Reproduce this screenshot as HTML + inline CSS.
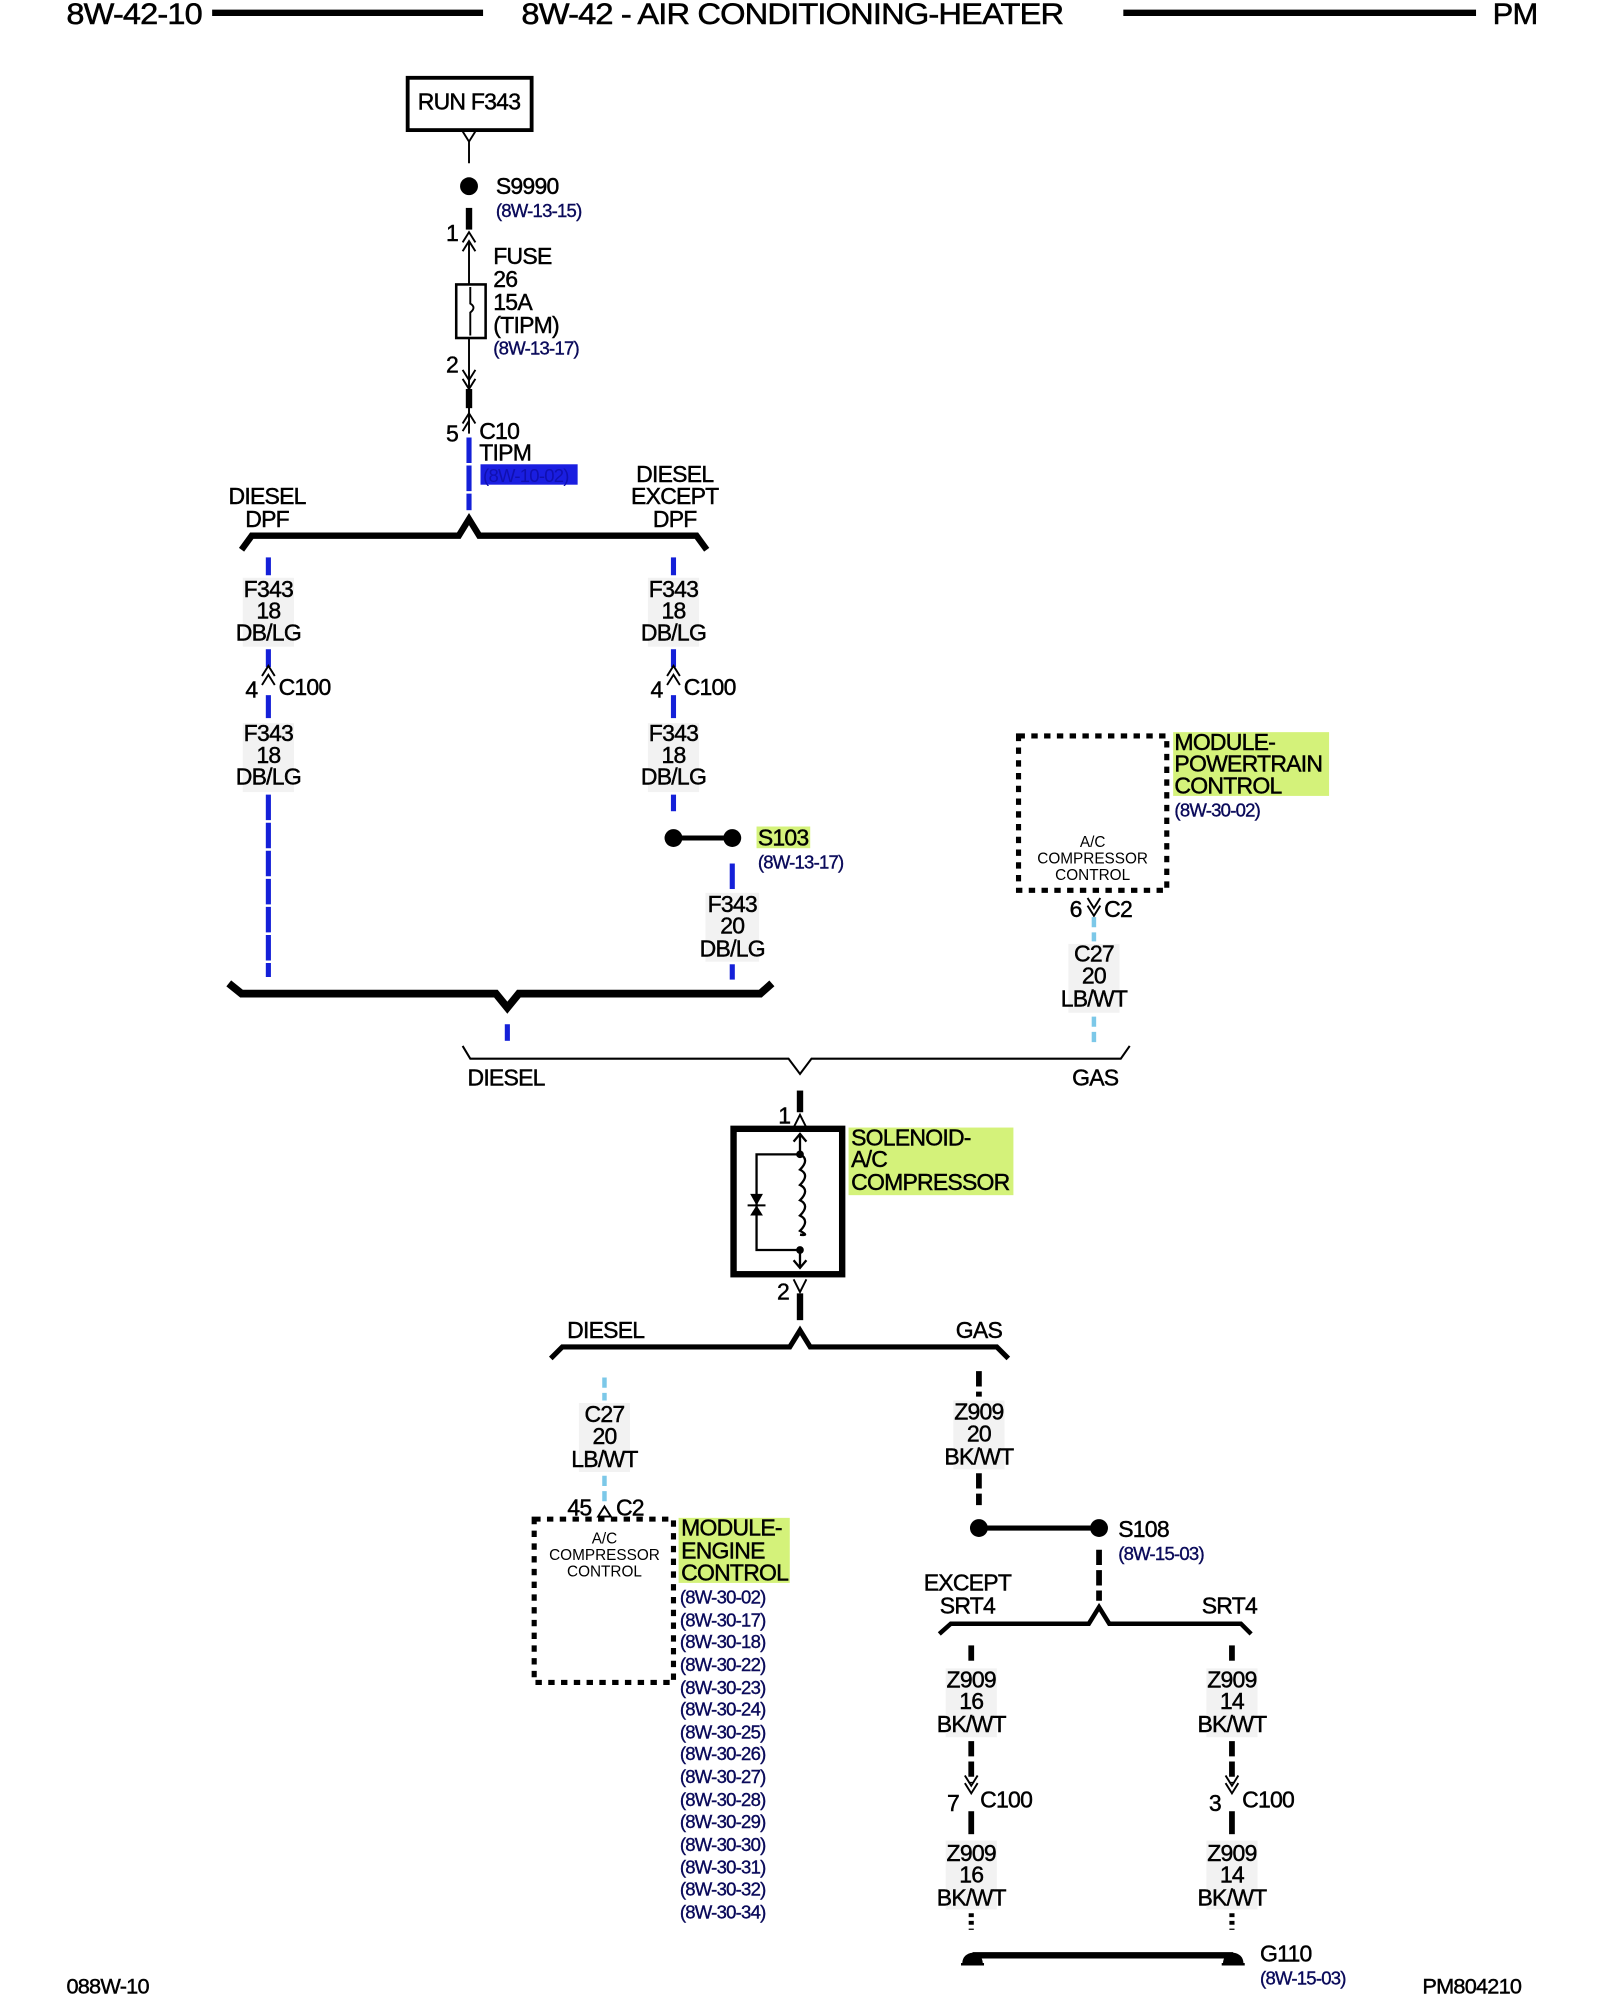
<!DOCTYPE html>
<html><head><meta charset="utf-8"><style>
html,body{margin:0;padding:0;background:#fff;}
svg{display:block;}
text{font-family:"Liberation Sans",Arial,sans-serif;fill:#000;letter-spacing:-0.6px;}
.t{font-size:18px;stroke:#000;stroke-width:0.35px;}
.r{font-size:14.5px;fill:#0a0a5a;stroke:#0a0a5a;stroke-width:0.3px;}
.s{font-size:12px;letter-spacing:0;}
.c{text-anchor:middle;}
.h{font-size:23px;stroke:#000;stroke-width:0.4px;}
.b{stroke:#1420d8;stroke-width:4;stroke-dasharray:20 2;}
.lb{stroke:#7cc8e8;stroke-width:3.5;stroke-dasharray:8 4;}
.k{stroke:#000;stroke-width:4.5;stroke-dasharray:12 4;}
.th{stroke:#000;fill:none;}
</style></head><body>
<svg width="1600" height="2000" viewBox="0 0 1252 1568" preserveAspectRatio="none" xmlns="http://www.w3.org/2000/svg">
<!-- header -->
<text x="52" y="19" class="h" textLength="106" lengthAdjust="spacingAndGlyphs">8W-42-10</text>
<line x1="166" y1="10" x2="378" y2="10" stroke="#000" stroke-width="5"/>
<text x="408" y="19" class="h" textLength="424" lengthAdjust="spacingAndGlyphs">8W-42 - AIR CONDITIONING-HEATER</text>
<line x1="879" y1="10" x2="1155" y2="10" stroke="#000" stroke-width="5"/>
<text x="1168" y="19" class="h" textLength="35" lengthAdjust="spacingAndGlyphs">PM</text>

<!-- RUN F343 -->
<rect x="319" y="61" width="97" height="41" fill="none" stroke="#000" stroke-width="3"/>
<text x="367" y="86" class="t c">RUN F343</text>
<path d="M362,103 L367,111 L372,103 M367,111 V128" class="th" stroke-width="1.5"/>
<circle cx="367" cy="146" r="7"/>
<text x="388" y="152" class="t">S9990</text>
<text x="388" y="170" class="r">(8W-13-15)</text>
<line x1="367" y1="163" x2="367" y2="180" stroke="#000" stroke-width="5"/>
<text x="349" y="189" class="t">1</text>
<path d="M362,190 L367,182 L372,190 M362,197 L367,189 L372,197 M367,189 V340" class="th" stroke-width="1.5"/>
<rect x="357" y="223" width="23" height="42" fill="#fff" stroke="#000" stroke-width="2"/>
<path d="M368,225 V238 q5,3 0,7 V263" class="th" stroke-width="1.5"/>
<text x="386" y="207" class="t">FUSE</text>
<text x="386" y="225" class="t">26</text>
<text x="386" y="243" class="t">15A</text>
<text x="386" y="261" class="t">(TIPM)</text>
<text x="386" y="278" class="r">(8W-13-17)</text>
<text x="349" y="292" class="t">2</text>
<path d="M362,290 L367,298 L372,290 M362,297 L367,305 L372,297" class="th" stroke-width="1.5"/>
<line x1="367" y1="305" x2="367" y2="320" stroke="#000" stroke-width="5"/>
<text x="349" y="346" class="t">5</text>
<path d="M362,332 L367,324 L372,332 M362,338 L367,330" class="th" stroke-width="1.5"/>
<text x="375" y="344" class="t">C10</text>
<text x="375" y="361" class="t">TIPM</text>
<rect x="376" y="364" width="76" height="16" fill="#1a1ee0"/>
<text x="378" y="378" class="r" style="fill:#1010b0;stroke:none">(8W-10-02)</text>
<line x1="367" y1="343" x2="367" y2="400" class="b"/>

<!-- first branch -->
<text x="209" y="395" class="t c">DIESEL</text>
<text x="209" y="413" class="t c">DPF</text>
<text x="528" y="378" class="t c">DIESEL</text>
<text x="528" y="395" class="t c">EXCEPT</text>
<text x="528" y="413" class="t c">DPF</text>
<path d="M189,431 L197,420 H359 L367,407 L375,420 H545 L553,431" class="th" stroke-width="5"/>

<!-- left column -->
<line x1="210" y1="437" x2="210" y2="451" class="b"/>
<rect x="190" y="453" width="40" height="54" fill="#f2f2f2"/>
<text x="210" y="468" class="t c">F343</text>
<text x="210" y="485" class="t c">18</text>
<text x="210" y="502" class="t c">DB/LG</text>
<line x1="210" y1="509" x2="210" y2="523" class="b"/>
<path d="M205,530 L210,522 L215,530 M205,537 L210,529 L215,537" class="th" stroke-width="1.5"/>
<text x="192" y="547" class="t">4</text>
<text x="218" y="545" class="t">C100</text>
<line x1="210" y1="545" x2="210" y2="563" class="b"/>
<rect x="190" y="567" width="40" height="54" fill="#f2f2f2"/>
<text x="210" y="581" class="t c">F343</text>
<text x="210" y="598" class="t c">18</text>
<text x="210" y="615" class="t c">DB/LG</text>
<line x1="210" y1="623" x2="210" y2="766" class="b"/>

<!-- right column -->
<line x1="527" y1="437" x2="527" y2="451" class="b"/>
<rect x="507" y="453" width="40" height="54" fill="#f2f2f2"/>
<text x="527" y="468" class="t c">F343</text>
<text x="527" y="485" class="t c">18</text>
<text x="527" y="502" class="t c">DB/LG</text>
<line x1="527" y1="509" x2="527" y2="523" class="b"/>
<path d="M522,530 L527,522 L532,530 M522,537 L527,529 L532,537" class="th" stroke-width="1.5"/>
<text x="509" y="547" class="t">4</text>
<text x="535" y="545" class="t">C100</text>
<line x1="527" y1="545" x2="527" y2="563" class="b"/>
<rect x="507" y="567" width="40" height="54" fill="#f2f2f2"/>
<text x="527" y="581" class="t c">F343</text>
<text x="527" y="598" class="t c">18</text>
<text x="527" y="615" class="t c">DB/LG</text>
<line x1="527" y1="623" x2="527" y2="636" class="b"/>
<line x1="527" y1="657" x2="573" y2="657" stroke="#000" stroke-width="4"/>
<circle cx="527" cy="657" r="7"/><circle cx="573" cy="657" r="7"/>
<rect x="592" y="648" width="42" height="17" fill="#d4f27a"/>
<text x="593" y="663" class="t">S103</text>
<text x="593" y="681" class="r">(8W-13-17)</text>
<line x1="573" y1="677" x2="573" y2="698" class="b"/>
<rect x="552" y="700" width="42" height="54" fill="#f2f2f2"/>
<text x="573" y="715" class="t c">F343</text>
<text x="573" y="732" class="t c">20</text>
<text x="573" y="750" class="t c">DB/LG</text>
<line x1="573" y1="756" x2="573" y2="768" class="b"/>

<!-- bottom bar -->
<path d="M179,771 L189,779 H388 L397,790 L406,779 H595 L604,771" class="th" stroke-width="6"/>
<line x1="397" y1="803" x2="397" y2="816" class="b"/>

<!-- PCM -->
<rect x="797" y="577" width="116" height="121" fill="none" stroke="#000" stroke-width="4" stroke-dasharray="5 5"/>
<text x="855" y="664" class="s c">A/C</text>
<text x="855" y="677" class="s c">COMPRESSOR</text>
<text x="855" y="690" class="s c">CONTROL</text>
<rect x="918" y="574" width="122" height="50" fill="#d4f27a"/>
<text x="919" y="588" class="t">MODULE-</text>
<text x="919" y="605" class="t">POWERTRAIN</text>
<text x="919" y="622" class="t">CONTROL</text>
<text x="919" y="640" class="r">(8W-30-02)</text>
<text x="837" y="719" class="t">6</text>
<path d="M851,704 L856,712 L861,704 M851,710 L856,718 L861,710" class="th" stroke-width="1.5"/>
<text x="864" y="719" class="t">C2</text>
<line x1="856" y1="719" x2="856" y2="738" class="lb"/>
<rect x="836" y="740" width="40" height="54" fill="#f2f2f2"/>
<text x="856" y="754" class="t c">C27</text>
<text x="856" y="771" class="t c">20</text>
<text x="856" y="789" class="t c">LB/WT</text>
<line x1="856" y1="797" x2="856" y2="818" class="lb"/>

<!-- brace -->
<path d="M362,820 L368,830 H617 L626,842 L635,830 H877 L884,820" class="th" stroke-width="1.6"/>
<text x="396" y="851" class="t c">DIESEL</text>
<text x="857" y="851" class="t c">GAS</text>

<!-- solenoid -->
<line x1="626" y1="855" x2="626" y2="872" stroke="#000" stroke-width="5"/>
<text x="609" y="881" class="t">1</text>
<path d="M621,884 L626,874 L631,884" class="th" stroke-width="1.5"/>
<rect x="574" y="885" width="85" height="114" fill="none" stroke="#000" stroke-width="5"/>
<path d="M621,895 L626,889 L631,895 M626,889 V905 M626,980 V994 M621,988 L626,994 L631,988" class="th" stroke-width="1.8"/>
<path d="M626,905 q8,4 0,12 q8,4 0,12 q8,4 0,12 q8,4 0,12 q8,4 0,12 q8,4 0,3" class="th" stroke-width="1.8"/>
<path d="M626,905 H592 V980 H626" class="th" stroke-width="1.8"/>
<circle cx="626" cy="905" r="3"/><circle cx="626" cy="980" r="3"/>
<path d="M587,936 L597,936 L592,945 Z M587,953 L597,953 L592,945 Z"/>
<line x1="585" y1="945" x2="599" y2="945" stroke="#000" stroke-width="1.5"/>
<rect x="664" y="884" width="129" height="53" fill="#d4f27a"/>
<text x="666" y="898" class="t">SOLENOID-</text>
<text x="666" y="915" class="t">A/C</text>
<text x="666" y="933" class="t">COMPRESSOR</text>
<text x="608" y="1019" class="t">2</text>
<path d="M621,1003 L626,1013 L631,1003" class="th" stroke-width="1.5"/>
<line x1="626" y1="1014" x2="626" y2="1035" stroke="#000" stroke-width="5"/>

<!-- second branch -->
<text x="474" y="1049" class="t c">DIESEL</text>
<text x="766" y="1049" class="t c">GAS</text>
<path d="M431,1065 L440,1056 H618 L626,1043 L634,1056 H780 L789,1065" class="th" stroke-width="4"/>

<!-- ECM side -->
<line x1="473" y1="1080" x2="473" y2="1098" class="lb"/>
<rect x="453" y="1100" width="40" height="54" fill="#f2f2f2"/>
<text x="473" y="1115" class="t c">C27</text>
<text x="473" y="1132" class="t c">20</text>
<text x="473" y="1150" class="t c">LB/WT</text>
<line x1="473" y1="1157" x2="473" y2="1178" class="lb"/>
<text x="444" y="1188" class="t">45</text>
<path d="M468,1189 L473,1181 L478,1189 Z" class="th" stroke-width="1.5"/>
<text x="482" y="1188" class="t">C2</text>
<rect x="418" y="1191" width="109" height="128" fill="none" stroke="#000" stroke-width="4" stroke-dasharray="5 5"/>
<text x="473" y="1210" class="s c">A/C</text>
<text x="473" y="1223" class="s c">COMPRESSOR</text>
<text x="473" y="1236" class="s c">CONTROL</text>
<rect x="531" y="1190" width="87" height="51" fill="#d4f27a"/>
<text x="533" y="1204" class="t">MODULE-</text>
<text x="533" y="1222" class="t">ENGINE</text>
<text x="533" y="1239" class="t">CONTROL</text>
<text x="532" y="1257" class="r">(8W-30-02)</text>
<text x="532" y="1275" class="r">(8W-30-17)</text>
<text x="532" y="1292" class="r">(8W-30-18)</text>
<text x="532" y="1310" class="r">(8W-30-22)</text>
<text x="532" y="1328" class="r">(8W-30-23)</text>
<text x="532" y="1345" class="r">(8W-30-24)</text>
<text x="532" y="1363" class="r">(8W-30-25)</text>
<text x="532" y="1380" class="r">(8W-30-26)</text>
<text x="532" y="1398" class="r">(8W-30-27)</text>
<text x="532" y="1416" class="r">(8W-30-28)</text>
<text x="532" y="1433" class="r">(8W-30-29)</text>
<text x="532" y="1451" class="r">(8W-30-30)</text>
<text x="532" y="1469" class="r">(8W-30-31)</text>
<text x="532" y="1486" class="r">(8W-30-32)</text>
<text x="532" y="1504" class="r">(8W-30-34)</text>

<!-- ground side -->
<line x1="766" y1="1075" x2="766" y2="1095" class="k"/>
<rect x="746" y="1098" width="40" height="54" fill="#f2f2f2"/>
<text x="766" y="1113" class="t c">Z909</text>
<text x="766" y="1130" class="t c">20</text>
<text x="766" y="1148" class="t c">BK/WT</text>
<line x1="766" y1="1155" x2="766" y2="1180" class="k"/>
<line x1="766" y1="1198" x2="860" y2="1198" stroke="#000" stroke-width="4"/>
<circle cx="766" cy="1198" r="7"/><circle cx="860" cy="1198" r="7"/>
<text x="875" y="1205" class="t">S108</text>
<text x="875" y="1223" class="r">(8W-15-03)</text>
<line x1="860" y1="1215" x2="860" y2="1255" class="k"/>
<text x="757" y="1247" class="t c">EXCEPT</text>
<text x="757" y="1265" class="t c">SRT4</text>
<text x="962" y="1265" class="t c">SRT4</text>
<path d="M735,1281 L744,1273 H852 L860,1260 L868,1273 H971 L979,1281" class="th" stroke-width="3.5"/>

<line x1="760" y1="1290" x2="760" y2="1306" class="k"/>
<rect x="740" y="1308" width="40" height="54" fill="#f2f2f2"/>
<text x="760" y="1323" class="t c">Z909</text>
<text x="760" y="1340" class="t c">16</text>
<text x="760" y="1358" class="t c">BK/WT</text>
<line x1="760" y1="1365" x2="760" y2="1398" class="k"/>
<path d="M755,1392 L760,1400 L765,1392 M755,1398 L760,1406 L765,1398" class="th" stroke-width="1.5"/>
<text x="741" y="1420" class="t">7</text>
<text x="767" y="1417" class="t">C100</text>
<line x1="760" y1="1420" x2="760" y2="1438" stroke="#000" stroke-width="4.5"/>
<rect x="740" y="1443" width="40" height="54" fill="#f2f2f2"/>
<text x="760" y="1459" class="t c">Z909</text>
<text x="760" y="1476" class="t c">16</text>
<text x="760" y="1494" class="t c">BK/WT</text>
<line x1="760" y1="1500" x2="760" y2="1513" stroke="#000" stroke-width="4" stroke-dasharray="3 3"/>

<line x1="964" y1="1290" x2="964" y2="1306" class="k"/>
<rect x="944" y="1308" width="40" height="54" fill="#f2f2f2"/>
<text x="964" y="1323" class="t c">Z909</text>
<text x="964" y="1340" class="t c">14</text>
<text x="964" y="1358" class="t c">BK/WT</text>
<line x1="964" y1="1365" x2="964" y2="1398" class="k"/>
<path d="M959,1392 L964,1400 L969,1392 M959,1398 L964,1406 L969,1398" class="th" stroke-width="1.5"/>
<text x="946" y="1420" class="t">3</text>
<text x="972" y="1417" class="t">C100</text>
<line x1="964" y1="1420" x2="964" y2="1438" stroke="#000" stroke-width="4.5"/>
<rect x="944" y="1443" width="40" height="54" fill="#f2f2f2"/>
<text x="964" y="1459" class="t c">Z909</text>
<text x="964" y="1476" class="t c">14</text>
<text x="964" y="1494" class="t c">BK/WT</text>
<line x1="964" y1="1500" x2="964" y2="1513" stroke="#000" stroke-width="4" stroke-dasharray="3 3"/>

<line x1="761" y1="1533" x2="965" y2="1533" stroke="#000" stroke-width="5"/>
<path d="M753,1539 A8,8 0 0 1 769,1539 Z M957,1539 A8,8 0 0 1 973,1539 Z"/>
<line x1="752" y1="1540" x2="770" y2="1540" stroke="#000" stroke-width="2"/>
<line x1="956" y1="1540" x2="974" y2="1540" stroke="#000" stroke-width="2"/>
<text x="986" y="1538" class="t">G110</text>
<text x="986" y="1556" class="r">(8W-15-03)</text>

<!-- footer -->
<text x="52" y="1563" class="t" style="font-size:17px">088W-10</text>
<text x="1113" y="1563" class="t" style="font-size:17px">PM804210</text>
</svg>
</body></html>
